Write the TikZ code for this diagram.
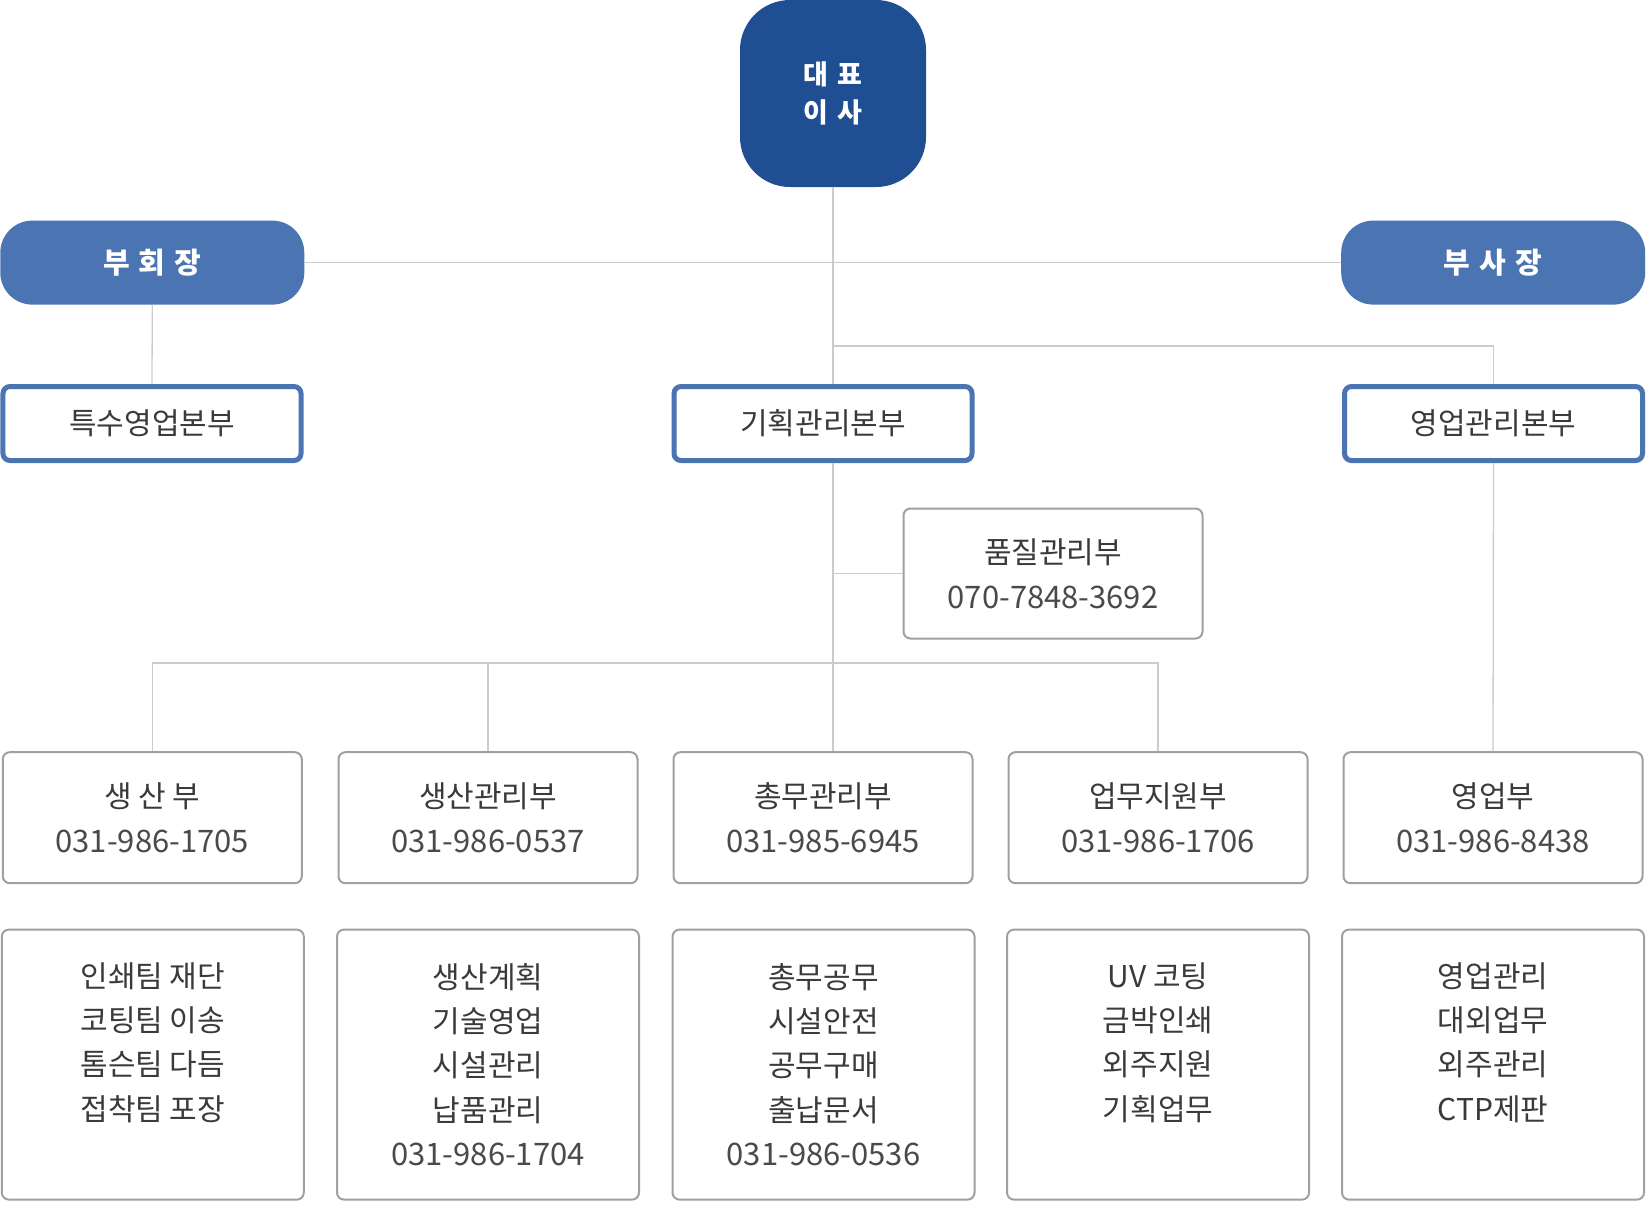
\documentclass[tikz,border=0pt]{standalone}
\usepackage{fontspec}
\setmainfont{Noto Sans CJK KR}
\definecolor{ceoblue}{HTML}{1F4E92}
\definecolor{vpblue}{HTML}{4A74B2}
\definecolor{boxgray}{HTML}{A0A0A0}
\definecolor{linegray}{HTML}{CCCCCC}
\definecolor{txtgray}{HTML}{3A3A3A}
\definecolor{numgray}{HTML}{4A4A4A}
\newcommand\kTitle{\fontsize{30bp}{44bp}\selectfont}
\newcommand\kPhone{\fontsize{31bp}{44bp}\selectfont\color{numgray}}
\newcommand\kGap{\hspace{0.32em}}
\tikzset{
  ceobox/.style={fill=ceoblue, rounded corners=50bp, minimum width=186bp, minimum height=187bp,
    inner sep=0pt, text=white, align=center, font=\fontsize{27bp}{38bp}\selectfont\bfseries},
  vpbox/.style={fill=vpblue, rounded corners=32bp, minimum width=304bp, minimum height=84bp,
    inner sep=0pt, text=white, font=\fontsize{29bp}{32bp}\selectfont\bfseries},
  hqbox/.style={draw=vpblue, line width=5bp, fill=white, rounded corners=7bp, minimum width=298bp,
    minimum height=74bp, inner sep=0pt, text=txtgray, font=\kTitle},
  deptbox/.style={draw=boxgray, line width=2bp, fill=white, rounded corners=7bp, minimum width=299bp,
    minimum height=131bp, inner sep=0pt, text=txtgray, align=center, font=\fontsize{30bp}{45bp}\selectfont},
  taskbox/.style={draw=boxgray, line width=2bp, fill=white, rounded corners=7bp, minimum width=302bp,
    minimum height=270bp, inner sep=0pt, text=txtgray, align=center, font=\fontsize{30bp}{44.4bp}\selectfont},
  link/.style={draw=linegray, line width=1.3bp}
}
\begin{document}
\begin{tikzpicture}[x=1bp,y=-1bp]
\useasboundingbox (0,0) rectangle (1647,1230);
% top level
\node[ceobox] (ceo) at (833,93.5) {대\kGap 표\\이\kGap 사};
\node[vpbox] (vp1) at (152.3,262.6) {부\kGap 회\kGap 장};
\node[vpbox] (vp2) at (1493.2,262.6) {부\kGap 사\kGap 장};
% headquarters
\node[hqbox] (hq1) at (152,423.5) {특수영업본부};
\node[hqbox] (hq2) at (823,423.5) {기획관리본부};
\node[hqbox] (hq3) at (1493.5,423.5) {영업관리본부};
% quality
\node[deptbox, minimum height=130bp] (qc) at (1053,573.5) {품질관리부\\{\kPhone 070-7848-3692}};
% departments
\node[deptbox] (d1) at (152.3,817.7) {생 산 부\\{\kPhone 031-986-1705}};
\node[deptbox] (d2) at (488,817.7) {생산관리부\\{\kPhone 031-986-0537}};
\node[deptbox] (d3) at (823,817.7) {총무관리부\\{\kPhone 031-985-6945}};
\node[deptbox] (d4) at (1158,817.7) {업무지원부\\{\kPhone 031-986-1706}};
\node[deptbox] (d5) at (1493,817.7) {영업부\\{\kPhone 031-986-8438}};
% tasks
\node[taskbox] (b1) at (152.8,1064.6) {인쇄팀 재단\\코팅팀 이송\\톰슨팀 다듬\\접착팀 포장\\\phantom{가}};
\node[taskbox] (b2) at (488,1064.6) {생산계획\\기술영업\\시설관리\\납품관리\\{\kPhone 031-986-1704}};
\node[taskbox] (b3) at (823.5,1064.6) {총무공무\\시설안전\\공무구매\\출납문서\\{\kPhone 031-986-0536}};
\node[taskbox] (b4) at (1158,1064.6) {UV 코팅\\금박인쇄\\외주지원\\기획업무\\\phantom{가}};
\node[taskbox] (b5) at (1493,1064.6) {영업관리\\대외업무\\외주관리\\CTP제판\\\phantom{가}};
% connectors
\coordinate (j1) at (833,346);
\coordinate (j2) at (833,663);
\draw[link] (ceo.south) -- (ceo.south |- hq2.north);
\draw[link] (ceo.south |- hq2.south) -- (ceo.south |- d3.north);
\draw[link] (vp1.east) -- (vp2.west);
\draw[link] (vp1.south) -- (hq1.north);
\draw[link] (j1) -| (hq3.north);
\draw[link] (ceo.south |- qc.west) -- (qc.west);
\draw[link] (d1.north) |- (d4.north |- j2) -- (d4.north);
\draw[link] (d2.north) -- (d2.north |- j2);
\draw[link] (hq3.south) -- (d5.north);
\end{tikzpicture}
\end{document}
